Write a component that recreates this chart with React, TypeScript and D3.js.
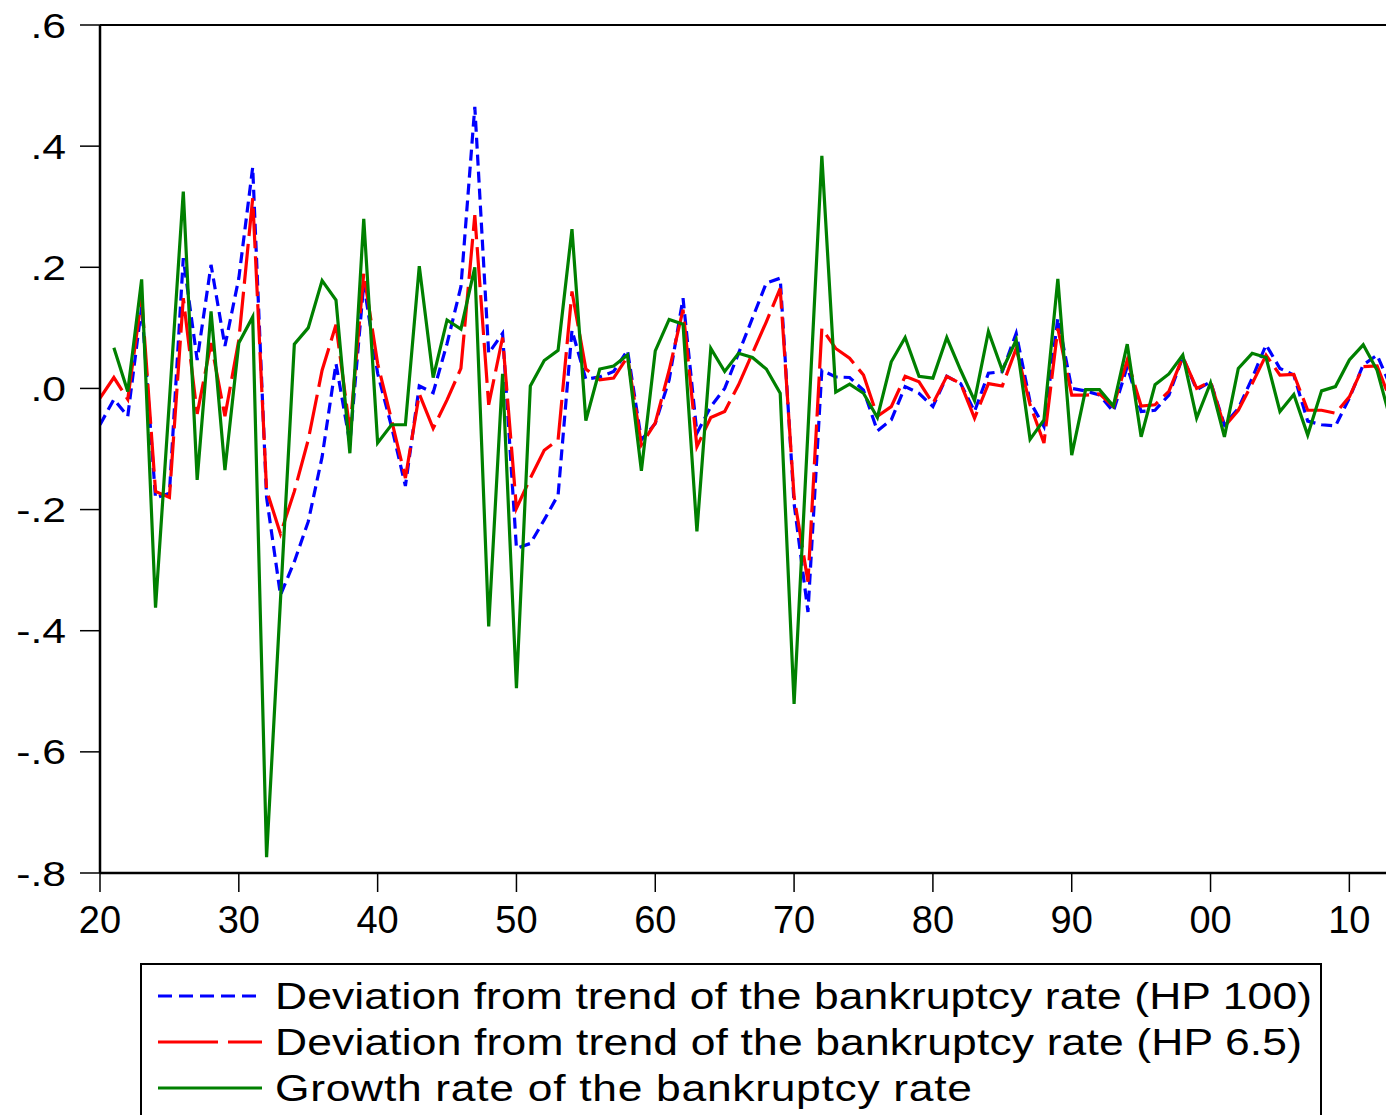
import React from "react";
import * as d3 from "d3";

// Annual observations, 1920–2013
const firstYear = 1920;
const lastYear = 2013;

// Deviation from trend of the bankruptcy rate, HP filter lambda = 100
const hp100: number[] = [
  -0.060, -0.018, -0.046, 0.135, -0.181, -0.173, 0.215, 0.047, 0.204, 0.070,
  0.182, 0.365, -0.180, -0.341, -0.286, -0.220, -0.113, 0.041, -0.090, 0.173,
  0.025, -0.063, -0.161, 0.004, -0.007, 0.074, 0.168, 0.465, 0.058, 0.091,
  -0.264, -0.256, -0.217, -0.176, 0.096, 0.015, 0.019, 0.028, 0.063, -0.085,
  -0.058, 0.014, 0.149, -0.074, -0.030, 0.000, 0.058, 0.116, 0.174, 0.182,
  -0.190, -0.369, 0.030, 0.019, 0.018, -0.003, -0.070, -0.052, 0.003, -0.008,
  -0.030, 0.020, 0.008, -0.038, 0.025, 0.028, 0.091, -0.022, -0.063, 0.116,
  0.000, -0.004, -0.011, -0.038, 0.036, -0.038, -0.036, -0.011, 0.052, -0.002,
  0.011, -0.060, -0.033, 0.017, 0.072, 0.033, 0.022, -0.054, -0.060, -0.062,
  -0.016, 0.039, 0.055, 0.002,
];

// Deviation from trend of the bankruptcy rate, HP filter lambda = 6.5
const hp65: number[] = [
  -0.016, 0.018, -0.018, 0.150, -0.170, -0.180, 0.149, -0.042, 0.075, -0.046,
  0.080, 0.314, -0.168, -0.240, -0.170, -0.085, 0.030, 0.105, -0.069, 0.190,
  0.041, -0.052, -0.148, -0.009, -0.066, -0.019, 0.033, 0.286, -0.027, 0.084,
  -0.198, -0.148, -0.102, -0.085, 0.160, 0.032, 0.014, 0.017, 0.052, -0.093,
  -0.057, 0.030, 0.130, -0.096, -0.048, -0.038, 0.006, 0.058, 0.110, 0.165,
  -0.179, -0.319, 0.099, 0.066, 0.050, 0.022, -0.046, -0.030, 0.020, 0.011,
  -0.025, 0.020, 0.008, -0.049, 0.008, 0.004, 0.066, -0.027, -0.090, 0.099,
  -0.011, -0.011, -0.009, -0.030, 0.047, -0.029, -0.027, -0.005, 0.052, 0.000,
  0.011, -0.063, -0.036, 0.008, 0.055, 0.022, 0.023, -0.036, -0.036, -0.041,
  -0.014, 0.036, 0.037, -0.022,
];

// Growth rate of the bankruptcy rate (no value for the first year)
const growth: (number | null)[] = [
  null, 0.067, -0.005, 0.180, -0.362, -0.020, 0.325, -0.151, 0.127, -0.135,
  0.075, 0.118, -0.774, -0.350, 0.073, 0.100, 0.178, 0.146, -0.107, 0.280,
  -0.090, -0.060, -0.060, 0.202, 0.018, 0.113, 0.098, 0.200, -0.393, 0.024,
  -0.495, 0.004, 0.046, 0.063, 0.263, -0.053, 0.032, 0.037, 0.055, -0.136,
  0.062, 0.114, 0.106, -0.236, 0.066, 0.028, 0.058, 0.051, 0.032, -0.008,
  -0.521, -0.070, 0.384, -0.006, 0.007, -0.008, -0.048, 0.044, 0.084, 0.020,
  0.017, 0.084, 0.030, -0.020, 0.094, 0.030, 0.080, -0.084, -0.052, 0.181,
  -0.110, -0.002, -0.002, -0.029, 0.073, -0.080, 0.006, 0.024, 0.055, -0.049,
  0.009, -0.080, 0.033, 0.058, 0.051, -0.038, -0.010, -0.077, -0.004, 0.003,
  0.047, 0.072, 0.030, -0.055,
];

const xTickYears = [1920, 1930, 1940, 1950, 1960, 1970, 1980, 1990, 2000, 2010];
const xTickLabels = ["20", "30", "40", "50", "60", "70", "80", "90", "00", "10"];
const yTickValues = [0.6, 0.4, 0.2, 0.0, -0.2, -0.4, -0.6, -0.8];
const yTickLabels = [".6", ".4", ".2", ".0", "-.2", "-.4", "-.6", "-.8"];

const legendLabels = [
  "Deviation from trend of the bankruptcy rate (HP 100)",
  "Deviation from trend of the bankruptcy rate (HP 6.5)",
  "Growth rate of the bankruptcy rate",
];

const W = 1386;
const H = 1115;
const plot = { left: 100, top: 25, bottom: 873, right: 1391 };
const FONT = "'Liberation Sans', Arial, Helvetica, sans-serif";

const seriesStyle = [
  { color: "#0000ff", dash: "11,6", legendDash: "14,7", labelWidth: 1037 },
  { color: "#ff0000", dash: "40,8", legendDash: "60,10", labelWidth: 1027 },
  { color: "#008000", dash: undefined as string | undefined, legendDash: undefined as string | undefined, labelWidth: 697 },
];

export default function App() {
  const years = d3.range(firstYear, lastYear + 1);
  const x = d3.scaleLinear().domain([firstYear, lastYear]).range([plot.left, plot.right]);
  const y = d3.scaleLinear().domain([-0.8, 0.6]).range([plot.bottom, plot.top]);

  const line = d3
    .line<number | null>()
    .defined((d) => d !== null && d !== undefined)
    .x((_, i) => x(years[i]))
    .y((d) => y(d as number));

  const series = [hp100, hp65, growth];

  return (
    <svg
      width={W}
      height={H}
      style={{ position: "absolute", left: 0, top: 0, background: "#fff" }}
      fontFamily={FONT}
    >
      <defs>
        <clipPath id="plotClip">
          <rect x={plot.left} y={plot.top - 2} width={plot.right - plot.left} height={plot.bottom - plot.top + 4} />
        </clipPath>
      </defs>
      <rect x={0} y={0} width={W} height={H} fill="#fff" />

      {/* series lines */}
      <g clipPath="url(#plotClip)">
        {series.map((s, k) => (
          <path
            key={k}
            d={line(s as (number | null)[]) || ""}
            fill="none"
            stroke={seriesStyle[k].color}
            strokeWidth={3.2}
            strokeDasharray={seriesStyle[k].dash}
            strokeLinejoin="miter"
            strokeMiterlimit={4}
          />
        ))}
      </g>

      {/* frame */}
      <line x1={plot.left} x2={plot.right} y1={plot.top} y2={plot.top} stroke="#000" strokeWidth={2} />
      <line x1={plot.right} x2={plot.right} y1={plot.top} y2={plot.bottom} stroke="#000" strokeWidth={2} />
      <line x1={plot.left} x2={plot.left} y1={plot.top} y2={plot.bottom} stroke="#000" strokeWidth={2.5} />
      <line x1={plot.left} x2={plot.right} y1={plot.bottom} y2={plot.bottom} stroke="#000" strokeWidth={2.5} />

      {/* y axis */}
      {yTickValues.map((v, i) => (
        <g key={i}>
          <line x1={plot.left - 20} x2={plot.left} y1={y(v)} y2={y(v)} stroke="#000" strokeWidth={1.5} />
          <text
            transform={`translate(66,${y(v) + 12.5}) scale(1.22,1)`}
            textAnchor="end"
            fontSize={35}
            fill="#000"
          >
            {yTickLabels[i]}
          </text>
        </g>
      ))}

      {/* x axis */}
      {xTickYears.map((yr, i) => (
        <g key={yr}>
          <line x1={x(yr)} x2={x(yr)} y1={plot.bottom} y2={plot.bottom + 19} stroke="#000" strokeWidth={1.5} />
          <text x={x(yr)} y={933} textAnchor="middle" fontSize={38} fill="#000">
            {xTickLabels[i]}
          </text>
        </g>
      ))}

      {/* legend */}
      <rect x={141} y={964} width={1180} height={200} fill="#fff" stroke="#000" strokeWidth={2} />
      {legendLabels.map((label, i) => {
        const ly = 996 + i * 46;
        return (
          <g key={i}>
            <line
              x1={158}
              x2={262}
              y1={ly}
              y2={ly}
              stroke={seriesStyle[i].color}
              strokeWidth={3}
              strokeDasharray={seriesStyle[i].legendDash}
            />
            <text
              transform={`translate(275,${ly + 13}) scale(1.2,1)`}
              fontSize={37}
              fill="#000"
              textLength={seriesStyle[i].labelWidth / 1.2}
              lengthAdjust="spacing"
            >
              {label}
            </text>
          </g>
        );
      })}
    </svg>
  );
}
